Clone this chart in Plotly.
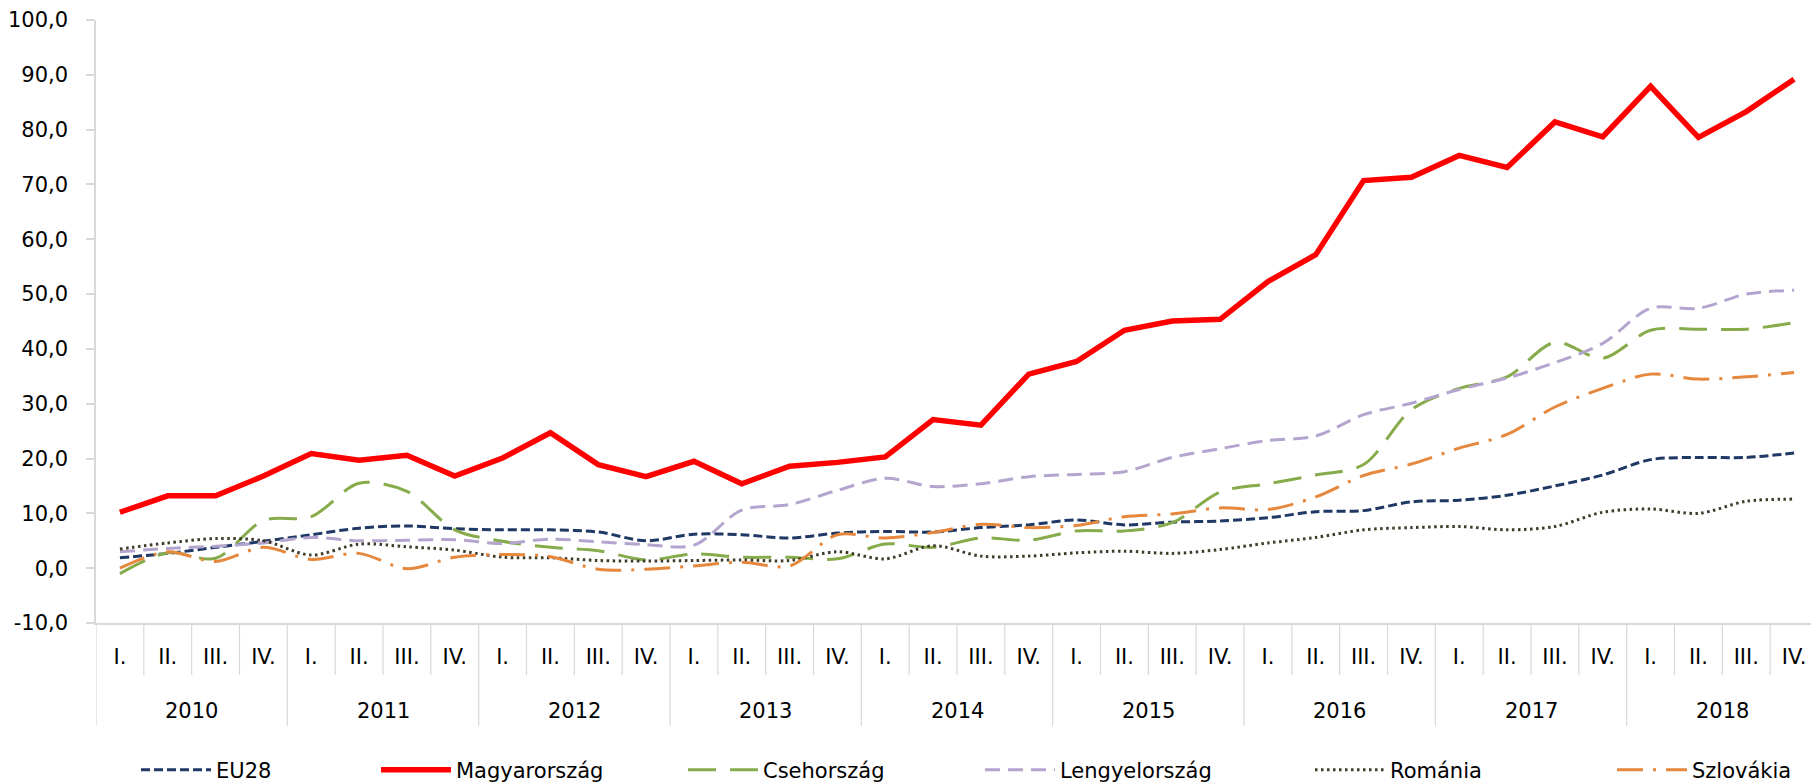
import plotly.graph_objects as go

years = ["2010", "2011", "2012", "2013", "2014", "2015", "2016", "2017", "2018"]
quarters = ["I.", "II.", "III.", "IV."] * len(years)

eu28 = [1.9, 2.7, 3.8, 4.9, 6.1, 7.3, 7.7, 7.2, 7.0, 7.0, 6.6, 5.0,
        6.2, 6.1, 5.5, 6.4, 6.7, 6.6, 7.4, 7.9, 8.8, 7.9, 8.4, 8.6,
        9.2, 10.3, 10.5, 12.1, 12.4, 13.3, 15.0, 17.0, 19.8, 20.2, 20.2, 21.0]
magyar = [10.2, 13.2, 13.2, 16.8, 20.9, 19.7, 20.6, 16.8, 20.1, 24.7, 18.9, 16.7,
          19.5, 15.4, 18.6, 19.3, 20.3, 27.1, 26.1, 35.4, 37.7, 43.4, 45.1, 45.4,
          52.3, 57.2, 70.7, 71.3, 75.3, 73.1, 81.4, 78.7, 87.9, 78.6, 83.3, 89.2]
cseh = [-1.0, 2.8, 1.8, 8.7, 9.4, 15.5, 14.0, 7.0, 4.9, 3.8, 3.2, 1.5,
        2.6, 2.0, 2.0, 1.7, 4.4, 3.8, 5.5, 5.1, 6.8, 6.8, 8.3, 13.9,
        15.4, 17.0, 18.9, 28.9, 32.8, 34.9, 41.2, 38.3, 43.4, 43.6, 43.6, 44.8]
lengyel = [3.0, 3.6, 4.0, 4.6, 5.6, 5.0, 5.1, 5.2, 4.5, 5.3, 4.8, 4.3,
           4.2, 10.6, 11.6, 14.2, 16.4, 14.9, 15.4, 16.7, 17.1, 17.6, 20.2, 21.8,
           23.3, 24.1, 28.0, 30.1, 32.6, 34.7, 37.5, 41.0, 47.4, 47.4, 50.0, 50.7]
romania = [3.5, 4.6, 5.4, 5.0, 2.4, 4.4, 3.9, 3.3, 2.0, 1.9, 1.4, 1.3,
           1.4, 1.5, 1.4, 3.0, 1.7, 4.1, 2.2, 2.2, 2.8, 3.1, 2.7, 3.4,
           4.6, 5.6, 7.0, 7.4, 7.6, 7.0, 7.6, 10.2, 10.8, 10.0, 12.2, 12.6]
szlovak = [0.0, 3.0, 1.2, 3.8, 1.6, 2.7, -0.1, 2.0, 2.5, 2.1, -0.2, -0.2,
           0.4, 1.1, 0.4, 6.1, 5.5, 6.5, 8.0, 7.4, 7.8, 9.4, 9.9, 11.0,
           10.7, 13.0, 16.9, 19.0, 21.9, 24.4, 29.4, 32.8, 35.4, 34.5, 34.9, 35.7]

ytick_vals = [-10, 0, 10, 20, 30, 40, 50, 60, 70, 80, 90, 100]
ytick_text = ["-10,0", "0,0", "10,0", "20,0", "30,0", "40,0", "50,0",
              "60,0", "70,0", "80,0", "90,0", "100,0"]

x = list(range(len(quarters)))
FONT = "DejaVu Sans"
FS = 21
GRAY = "#D9D9D9"
W, H = 1811, 775  # page body adds an 8px offset
ITEM_W = 70

# name, values, line style, shape, legend text start (px on the page)
series = [
    ("EU28", eu28, dict(color="#1F3864", width=3, dash="9px,4px"), "spline", 215),
    ("Magyarország", magyar, dict(color="#FF0000", width=5.5), "linear", 455),
    ("Csehország", cseh, dict(color="#86AB4A", width=3, dash="28px,14px"), "spline", 762),
    ("Lengyelország", lengyel, dict(color="#B4A5CE", width=3, dash="15px,8px"), "spline", 1059),
    ("Románia", romania, dict(color="#3F3B29", width=3, dash="2.5px,3.5px"), "spline", 1389),
    ("Szlovákia", szlovak, dict(color="#E5873C", width=3, dash="26px,10px,3px,10px"), "spline", 1691),
]

fig = go.Figure()
legends = {}
for n, (name, vals, line, shape, text_x) in enumerate(series):
    line = dict(line, shape=shape)
    if shape == "spline":
        line["smoothing"] = 0.9
    key = "legend" if n == 0 else f"legend{n + 1}"
    fig.add_trace(go.Scatter(x=x, y=vals, mode="lines", name=name, line=line, legend=key))
    legends[key] = dict(orientation="h", xref="container", yref="container",
                        x=(text_x - 8 - 39 - (ITEM_W - 30)) / W, xanchor="left",
                        y=13 / H, yanchor="middle", itemwidth=ITEM_W,
                        font=dict(family=FONT, size=FS, color="#000000"),
                        bgcolor="rgba(0,0,0,0)")

# separators below the category axis
plot_h = 603
q_bottom = -52 / plot_h
y_bottom = -103 / plot_h
shapes = []
for i in range(len(quarters) + 1):
    is_year = i % 4 == 0
    shapes.append(dict(type="line", xref="x", yref="paper",
                       x0=i - 0.5, x1=i - 0.5, y0=0, y1=y_bottom if is_year else q_bottom,
                       line=dict(color=GRAY, width=1.2)))

annotations = []
for k, yr in enumerate(years):
    annotations.append(dict(x=4 * k + 1.5, y=-88 / plot_h, xref="x", yref="paper",
                            text=yr, showarrow=False, yanchor="middle",
                            font=dict(family=FONT, size=FS, color="#000000")))

fig.update_layout(
    width=W,
    height=H,
    margin=dict(l=88, r=1, t=12, b=160, autoexpand=False),
    paper_bgcolor="white",
    plot_bgcolor="white",
    font=dict(family=FONT, size=FS, color="#000000"),
    showlegend=True,
    shapes=shapes,
    annotations=annotations,
    **legends,
)
fig.update_xaxes(range=[-0.5, len(quarters) - 0.5], tickvals=x, ticktext=quarters,
                 showgrid=False, zeroline=False, showline=True, linecolor=GRAY, linewidth=1.5,
                 ticks="", ticklabelstandoff=14, tickfont=dict(size=FS))
fig.update_yaxes(range=[-10, 100], tickvals=ytick_vals, ticktext=ytick_text,
                 showgrid=False, zeroline=False, showline=True, linecolor=GRAY, linewidth=1.5,
                 ticks="outside", ticklen=8, tickcolor=GRAY, tickwidth=1.5,
                 ticklabelstandoff=14, tickfont=dict(size=FS))

fig.write_html("out.html")
